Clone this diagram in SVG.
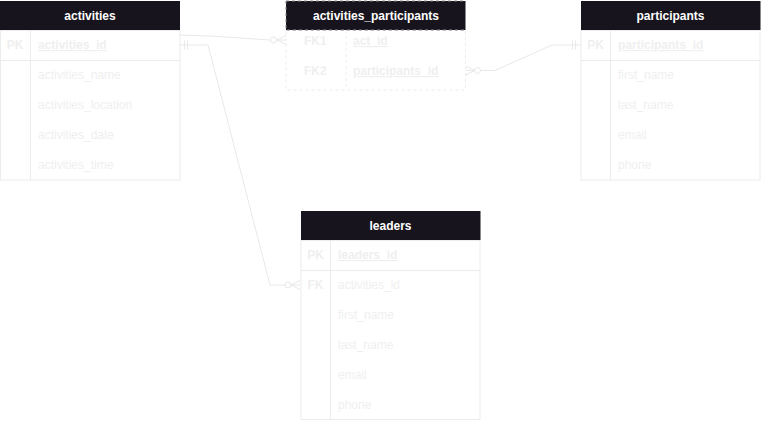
<svg xmlns="http://www.w3.org/2000/svg" width="761" height="421" viewBox="0 0 761 421">
<style>
.hdr{fill:#18141d;}
.hdrd{fill:#18141d;stroke:#888;stroke-dasharray:3 3;}
.body{fill:#ffffff;stroke:#ececec;stroke-width:1;}
.bodyd{fill:#ffffff;stroke:#ececec;stroke-width:1;stroke-dasharray:3 3;}
.ln{stroke:#ececec;stroke-width:1;fill:none;}
.lnd{stroke:#ececec;stroke-width:1;fill:none;stroke-dasharray:3 3;}
.ht{font-family:"Liberation Sans",Arial,sans-serif;font-size:12px;font-weight:bold;fill:#ffffff;text-anchor:middle;}
.t{font-family:"Liberation Sans",Arial,sans-serif;font-size:12px;fill:#efefef;}
.b{font-weight:bold;}
.u{text-decoration:underline;}
.k{text-anchor:middle;}
.c{stroke:#e8e8e8;stroke-width:1;fill:none;}
</style>
<g id="connectors">
<!-- activities -> activities_participants.act_id -->
<path class="c" d="M180,35 L210,36 L270,40"/>
<circle class="c" cx="273.5" cy="40" r="3" fill="#fff"/>
<path class="c" d="M286,35.5 L277,40 L286,44.5 M277,40 L286,40"/>
<!-- activities.activities_id -> leaders.activities_id -->
<path class="c" d="M180,45 L208,45 L270,285 L285,285"/>
<path class="c" d="M184.5,40.5 L184.5,49.5 M187.5,40.5 L187.5,49.5"/>
<circle class="c" cx="288" cy="285" r="3" fill="#fff"/>
<path class="c" d="M300,280.5 L291,285 L300,289.5 M291,285 L300,285"/>
<!-- activities_participants.participants_id -> participants.participants_id -->
<path class="c" d="M480.5,70.5 L495,70.5 L552,45 L581,45"/>
<circle class="c" cx="477.5" cy="70.5" r="3" fill="#fff"/>
<path class="c" d="M466,66 L474.5,70.5 L466,75 M466,70.5 L474.5,70.5"/>
<path class="c" d="M572.5,40.5 L572.5,49.5 M575.5,40.5 L575.5,49.5"/>
</g>
<g id="activities">
<rect class="body" x="0.5" y="30.5" width="179.5" height="149.5"/>
<rect class="hdr" x="0" y="1" width="180" height="29"/>
<text class="ht" x="90" y="19.5">activities</text>
<line class="ln" x1="30.5" y1="30" x2="30.5" y2="180"/>
<line class="ln" x1="0" y1="60.5" x2="180" y2="60.5"/>
<text class="t b k" x="15" y="49">PK</text>
<text class="t b u" x="38" y="49">activities_id</text>
<text class="t" x="38" y="79">activities_name</text>
<text class="t" x="38" y="109">activities_location</text>
<text class="t" x="38" y="139">activities_date</text>
<text class="t" x="38" y="169">activities_time</text>
</g>
<g id="activities_participants">
<rect class="bodyd" x="286" y="30.5" width="179.5" height="59.5"/>
<rect class="hdrd" x="286" y="1" width="179.5" height="29"/>
<text class="ht" x="376" y="19.5">activities_participants</text>
<line class="lnd" x1="346" y1="30" x2="346" y2="90"/>
<text class="t b" x="304" y="45">FK1</text>
<text class="t b u" x="353" y="45">act_id</text>
<text class="t b" x="304" y="75">FK2</text>
<text class="t b u" x="353" y="75">participants_id</text>
</g>
<g id="participants">
<rect class="body" x="581" y="30.5" width="179" height="149.5"/>
<rect class="hdr" x="581" y="1" width="179.5" height="29"/>
<text class="ht" x="670.5" y="19.5">participants</text>
<line class="ln" x1="610.5" y1="30" x2="610.5" y2="180"/>
<line class="ln" x1="581" y1="60.5" x2="760" y2="60.5"/>
<text class="t b k" x="595.5" y="49">PK</text>
<text class="t b u" x="618" y="49">participants_id</text>
<text class="t" x="618" y="79">first_name</text>
<text class="t" x="618" y="109">last_name</text>
<text class="t" x="618" y="139">email</text>
<text class="t" x="618" y="169">phone</text>
</g>
<g id="leaders">
<rect class="body" x="301" y="240.5" width="179" height="179"/>
<rect class="hdr" x="301" y="211" width="179.5" height="29"/>
<text class="ht" x="390.5" y="229.5">leaders</text>
<line class="ln" x1="330.5" y1="240" x2="330.5" y2="420"/>
<line class="ln" x1="301" y1="270.5" x2="480" y2="270.5"/>
<text class="t b k" x="315.5" y="259">PK</text>
<text class="t b u" x="338" y="259">leaders_id</text>
<text class="t b k" x="315.5" y="289">FK</text>
<text class="t" x="338" y="289">activities_id</text>
<text class="t" x="338" y="319">first_name</text>
<text class="t" x="338" y="349">last_name</text>
<text class="t" x="338" y="379">email</text>
<text class="t" x="338" y="409">phone</text>
</g>
</svg>
